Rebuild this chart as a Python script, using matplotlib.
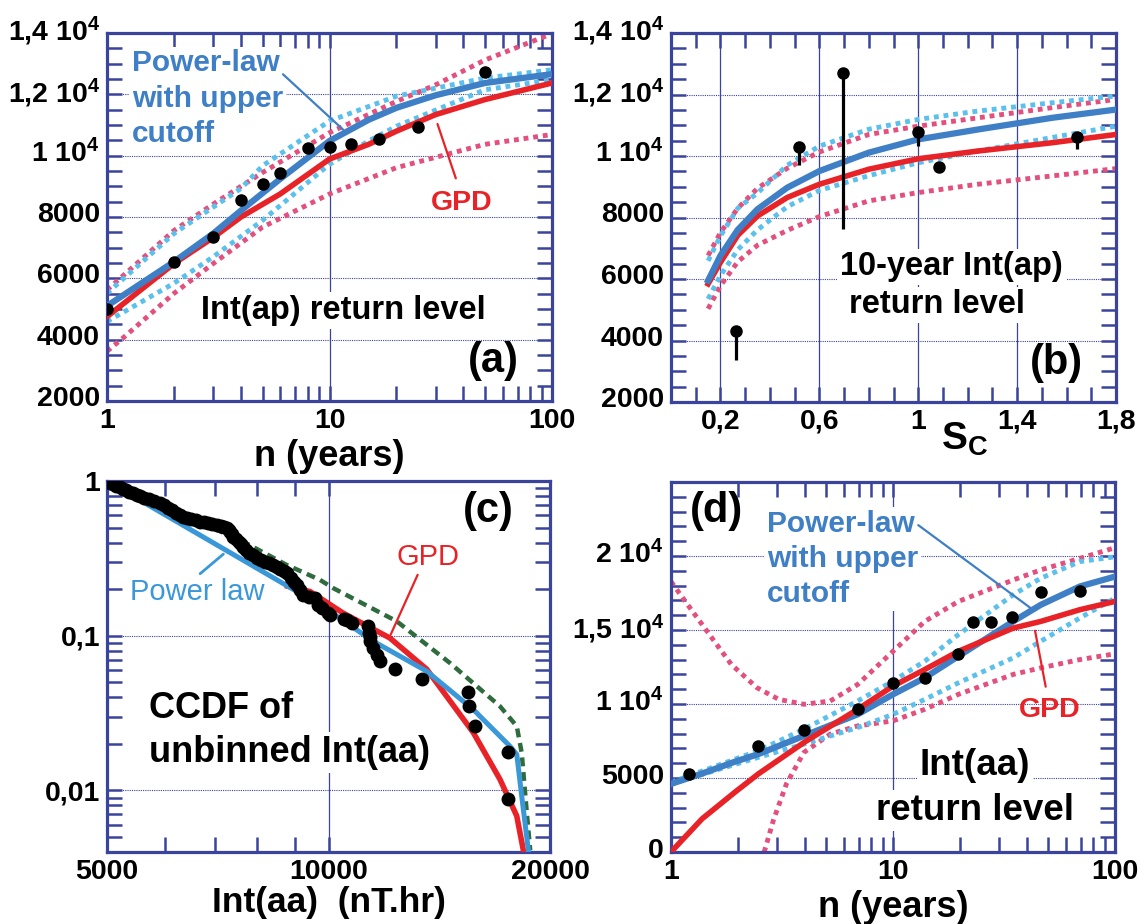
import matplotlib
matplotlib.use("Agg")
import matplotlib.pyplot as plt
import matplotlib.transforms as mtransforms
from matplotlib.ticker import LogLocator, NullFormatter

plt.rcParams["font.family"] = ["Liberation Sans", "DejaVu Sans"]
plt.rcParams["font.weight"] = "bold"
plt.rcParams["mathtext.fontset"] = "custom"
plt.rcParams["mathtext.rm"] = "Liberation Sans:bold"
plt.rcParams["mathtext.it"] = "Liberation Sans:bold"
plt.rcParams["mathtext.bf"] = "Liberation Sans:bold"
plt.rcParams["mathtext.default"] = "rm"

NAVY = "#3b449c"
BLUE = "#3e7fc6"
LIGHT_BLUE = "#5cc0ec"
PINK = "#e3507e"
RED = "#e82328"
PL_BLUE = "#3a98d8"
GREEN = "#2f6b3c"

# ---- (a) Int(ap) return level vs n ----
a_n_obs = [1, 2, 3, 4, 5, 6, 8, 10, 12.5, 16.7, 25, 50]
a_obs = [4990, 6520, 7360, 8560, 9090, 9430, 10260, 10280, 10370, 10530, 10930, 12730]
a_n_fit = [1, 2, 3, 4, 6, 10, 15, 20, 30, 50, 100]
a_powerlaw = [5100, 6540, 7460, 8210, 9240, 10480, 11170, 11560, 11970, 12370, 12660]
a_gpd = [4750, 6480, 7330, 8000, 8750, 9890, 10370, 10800, 11340, 11830, 12370]
a_n_pl_hi = [1, 2, 3, 4, 5, 10, 20, 50, 100]
a_pl_hi = [5510, 7460, 8320, 8930, 9670, 11130, 11940, 12530, 12800]
a_n_pl_lo = [1, 2, 3, 5, 10, 15, 20, 50, 100]
a_pl_lo = [4590, 5840, 6700, 7890, 9720, 10480, 10960, 12150, 12470]
a_n_gpd_hi = [1, 2, 3, 5, 10, 20, 30, 50, 100]
a_gpd_hi = [5620, 7560, 8420, 9450, 10750, 11770, 12310, 13120, 13980]
a_n_gpd_lo = [1, 1.2, 2, 3, 5, 10, 20, 50, 100]
a_gpd_lo = [3620, 4100, 5510, 6480, 7670, 8750, 9610, 10370, 10690]

# ---- (b) 10-year Int(ap) return level vs Sc ----
b_sc_obs = [0.264, 0.519, 0.694, 1.0, 1.086, 1.644]
b_obs = [4320, 10290, 12700, 10780, 9640, 10620]
b_obs_low = [3350, 9710, 7620, 10320, 9640, 10220]
b_sc = [0.15, 0.2, 0.27, 0.35, 0.47, 0.6, 0.8, 1.0, 1.24, 1.54, 1.8]
b_powerlaw = [5950, 6760, 7600, 8270, 8970, 9510, 10110, 10540, 10860, 11240, 11510]
b_gpd = [5840, 6540, 7420, 8050, 8650, 9080, 9570, 9910, 10160, 10430, 10700]
b_pl_hi = [6590, 7400, 8300, 8800, 9700, 10320, 10870, 11190, 11460, 11730, 11950]
b_pl_lo = [5350, 6110, 6950, 7600, 8350, 8880, 9360, 9780, 10160, 10600, 10970]
b_gpd_hi = [6760, 7510, 8300, 8950, 9600, 10130, 10700, 10970, 11240, 11570, 11840]
b_gpd_lo = [5030, 5780, 6560, 7100, 7580, 8030, 8540, 8810, 9080, 9350, 9590]

# ---- (c) CCDF of unbinned Int(aa) ----
c_dot_x = [5000, 5048, 5100, 5150, 5200, 5250, 5300, 5360, 5428, 5490, 5550, 5620, 5700,
           5800, 5902, 5980, 6050, 6120, 6200, 6280, 6348, 6420, 6500, 6600, 6689, 6770,
           6850, 6950, 7047, 7150, 7210, 7273, 7320, 7350, 7390, 7424, 7490, 7550, 7600,
           7660, 7730, 7800, 7900, 7987, 8100, 8200, 8300, 8414, 8500, 8600, 8700, 8775,
           8900, 8980, 9054, 9150, 9245, 9420, 9585, 9686, 9800, 9993, 10046,
           10496, 10585, 10752, 11326, 11365, 11385, 11385, 11505, 11627, 11749,
           12312, 13387, 15490, 15540, 15820, 17550, 17550]
c_dot_y = [1.0, 0.966, 0.95, 0.93, 0.91, 0.89, 0.87, 0.85, 0.833, 0.815, 0.80, 0.78, 0.76,
           0.74, 0.718, 0.695, 0.67, 0.645, 0.625, 0.605, 0.589, 0.578, 0.57, 0.556, 0.546, 0.54,
           0.535, 0.528, 0.520, 0.51, 0.503, 0.495, 0.483, 0.47, 0.455, 0.437, 0.42, 0.405, 0.39,
           0.377, 0.36, 0.345, 0.33, 0.317, 0.307, 0.30, 0.294, 0.287, 0.278, 0.27, 0.262, 0.254,
           0.235, 0.224, 0.213, 0.198, 0.184, 0.178, 0.175, 0.158, 0.150, 0.140, 0.1366,
           0.1286, 0.127, 0.121, 0.115, 0.104, 0.0919, 0.0975, 0.0833, 0.0754, 0.0683,
           0.061, 0.0526, 0.0431, 0.035, 0.0262, 0.0177, 0.00875]
c_pl_x = [5000, 6030, 7424, 9146, 10050, 11508, 13596, 15736, 17646, 18025, 18306, 18690]
c_pl_y = [1.0, 0.595, 0.335, 0.188, 0.143, 0.092, 0.059, 0.0333, 0.0193, 0.0171, 0.0092, 0.0041]
c_gpd_x = [8800, 9440, 10470, 12120, 13600, 15736, 17100, 18025, 18400]
c_gpd_y = [0.209, 0.193, 0.140, 0.0966, 0.0607, 0.0236, 0.0118, 0.00683, 0.0041]
c_exp_x = [7000, 7580, 8770, 9730, 10150, 12380, 14620, 17100, 18025, 18306, 18600, 18800]
c_exp_y = [0.49, 0.416, 0.287, 0.23, 0.203, 0.124, 0.0667, 0.035, 0.026, 0.0175, 0.00718, 0.0041]

# ---- (d) Int(aa) return level vs n ----
d_n_obs = [1.21, 2.47, 3.97, 6.93, 10, 13.9, 19.7, 22.9, 27.5, 34.5, 46.3, 69.4]
d_obs = [5270, 7130, 8230, 9690, 11430, 11770, 13390, 15520, 15540, 15870, 17560, 17650]
d_n_fit = [1, 1.38, 1.94, 2.47, 3.97, 6.93, 10, 13.9, 19.7, 34.8, 46.3, 69.4, 100]
d_powerlaw = [4600, 5300, 6100, 6610, 7850, 9300, 10650, 11770, 13230, 15580, 16700, 17940, 18610]
d_gpd = [0, 2240, 4040, 5270, 7400, 9640, 11210, 12330, 13560, 15130, 15580, 16370, 16930]
d_n_pl = [1, 2.47, 3.97, 6.93, 10, 13.9, 19.7, 34.8, 46.3, 69.4, 100]
d_pl_hi = [4710, 6840, 8300, 10200, 11550, 12890, 14690, 17380, 18500, 19620, 19950]
d_pl_lo = [4600, 6390, 7290, 8410, 9300, 10310, 11430, 13120, 14240, 15810, 17150]
d_n_gpd_hi = [1, 1.19, 1.49, 1.87, 2.44, 3.06, 3.97, 5.21, 6.93, 10, 13.9, 19.7, 34.8, 46.3, 69.4, 100]
d_gpd_hi = [18270, 16700, 14690, 12670, 11100, 10310, 9980, 10200, 11320, 13560, 15580,
            16930, 18380, 19060, 19840, 20560]
d_n_gpd_lo = [2.63, 2.89, 3.31, 3.97, 5.21, 6.93, 10, 13.9, 19.7, 34.8, 46.3, 69.4, 100]
d_gpd_lo = [0, 2130, 4600, 6730, 7960, 8520, 8860, 9640, 10650, 12000, 12440, 13000, 13390]

# axes boxes in pixels: left, top, right, bottom
FIG_W, FIG_H = 1148, 924
BOXES = {
    "a": (107, 33, 552, 401),
    "b": (671, 33, 1116, 402),
    "c": (107, 481, 550, 852),
    "d": (671, 482, 1115, 852),
}


def make_axes(fig, key):
    l, t, r, b = BOXES[key]
    return fig.add_axes([l / FIG_W, 1 - b / FIG_H, (r - l) / FIG_W, (b - t) / FIG_H])


def frame(ax):
    for s in ax.spines.values():
        s.set_color(NAVY)
        s.set_linewidth(2.3)
    ax.tick_params(which="both", direction="in", top=True, right=True,
                   length=11, width=1.8, color=NAVY, labelsize=20.5)
    ax.tick_params(axis="y", which="both", pad=5)
    ax.tick_params(axis="x", which="both", pad=5)


def lift_ylabels(ax, px):
    off = mtransforms.ScaledTranslation(0, px / 100, ax.figure.dpi_scale_trans)
    for lab in ax.get_yticklabels():
        lab.set_transform(lab.get_transform() + off)


def hgrid(ax, ys):
    for y in ys:
        ax.axhline(y, color=NAVY, lw=0.8, ls=(0, (1, 1)), zorder=0.5)


def vgrid(ax, xs):
    for x in xs:
        ax.axvline(x, color=NAVY, lw=0.9, zorder=0.5)


def dotted(ax, x, y, color):
    ax.plot(x, y, color=color, lw=3.5, ls=(0, (1, 1)), zorder=2.5)


def label_box(ax, x, y, s, **kw):
    kw.setdefault("fontsize", 23.5)
    ax.text(x, y, s, transform=ax.transAxes, zorder=2,
            bbox=dict(facecolor="white", edgecolor="none", pad=2), **kw)


def log_x(ax, lo, hi):
    ax.set_xscale("log")
    ax.set_xlim(lo, hi)
    ax.xaxis.set_minor_locator(LogLocator(subs=range(2, 10)))
    ax.xaxis.set_minor_formatter(NullFormatter())


fig = plt.figure(figsize=(FIG_W / 100, FIG_H / 100), dpi=100)

# ---------------- (a) ----------------
ax = make_axes(fig, "a")
log_x(ax, 1, 100)
ax.set_ylim(2000, 14000)
ax.set_xticks([1, 10, 100], ["1", "10", "100"])
ax.set_yticks(range(2000, 14001, 2000),
              ["2000", "4000", "6000", "8000", "1 10$^4$", "1,2 10$^4$", "1,4 10$^4$"])
ax.set_yticks(range(2000, 14001, 500), minor=True)
frame(ax)
hgrid(ax, [4000, 6000, 8000, 10000, 12000])
vgrid(ax, [10])
dotted(ax, a_n_gpd_hi, a_gpd_hi, PINK)
dotted(ax, a_n_gpd_lo, a_gpd_lo, PINK)
dotted(ax, a_n_pl_hi, a_pl_hi, LIGHT_BLUE)
dotted(ax, a_n_pl_lo, a_pl_lo, LIGHT_BLUE)
ax.plot(a_n_fit, a_gpd, color=RED, lw=4, zorder=3)
ax.plot(a_n_fit, a_powerlaw, color=BLUE, lw=4.5, zorder=3.2)
ax.plot(a_n_obs, a_obs, "o", color="black", ms=8, zorder=4)
label_box(ax, 0.056, 0.822, "Power-law\nwith upper\ncutoff", color=BLUE, fontsize=21.5,
          va="center", ha="left", linespacing=1.32)
ax.annotate("", xy=(11.75, 10790), xytext=(6.05, 12715),
            arrowprops=dict(arrowstyle="-", color=BLUE, lw=1.6), zorder=3)
ax.text(0.798, 0.538, "GPD", transform=ax.transAxes, color=RED, fontsize=20.5,
        ha="center", va="center")
ax.annotate("", xy=(37.3, 9175), xytext=(30.3, 11118),
            arrowprops=dict(arrowstyle="-", color=RED, lw=1.6), zorder=3)
label_box(ax, 0.532, 0.247, "Int(ap) return level", ha="center", va="center")
ax.text(0.868, 0.108, "(a)", transform=ax.transAxes, fontsize=30, ha="center", va="center")
ax.text(0.5, -0.15, "n (years)", transform=ax.transAxes, fontsize=26, ha="center", va="center")
lift_ylabels(ax, 5)

# ---------------- (b) ----------------
ax = make_axes(fig, "b")
ax.set_xlim(0, 1.8)
ax.set_ylim(2000, 14000)
ax.set_xticks([0.2, 0.6, 1.0, 1.4, 1.8], ["0,2", "0,6", "1", "1,4", "1,8"])
ax.set_xticks([i / 10 for i in range(0, 19)], minor=True)
ax.set_yticks(range(2000, 14001, 2000),
              ["2000", "4000", "6000", "8000", "1 10$^4$", "1,2 10$^4$", "1,4 10$^4$"])
ax.set_yticks(range(2000, 14001, 500), minor=True)
frame(ax)
hgrid(ax, [4000, 6000, 8000, 10000, 12000])
vgrid(ax, [0.2, 0.6, 1.0, 1.4])
dotted(ax, b_sc, b_gpd_hi, PINK)
dotted(ax, b_sc, b_gpd_lo, PINK)
dotted(ax, b_sc, b_pl_hi, LIGHT_BLUE)
dotted(ax, b_sc, b_pl_lo, LIGHT_BLUE)
ax.plot(b_sc, b_gpd, color=RED, lw=4, zorder=3)
ax.plot(b_sc, b_powerlaw, color=BLUE, lw=4.5, zorder=3.2)
ax.vlines(b_sc_obs, b_obs_low, b_obs, color="black", lw=2.3, zorder=4)
ax.plot(b_sc_obs, b_obs, "o", color="black", ms=8, zorder=4)
label_box(ax, 0.631, 0.366, "10-year Int(ap)", ha="center", va="center")
label_box(ax, 0.598, 0.263, "return level", ha="center", va="center")
ax.text(0.866, 0.107, "(b)", transform=ax.transAxes, fontsize=30, ha="center", va="center")
ax.text(0.66, -0.1, "S$_C$", transform=ax.transAxes, fontsize=28, ha="center", va="center")
lift_ylabels(ax, 5)

# ---------------- (c) ----------------
ax = make_axes(fig, "c")
log_x(ax, 5000, 20000)
ax.set_yscale("log")
ax.set_ylim(0.004, 1)
ax.set_xticks([5000, 10000, 20000], ["5000", "10000", "20000"])
ax.set_xticks([6000, 7000, 8000, 9000], minor=True)
ax.set_yticks([0.01, 0.1, 1], ["0,01", "0,1", "1"])
ax.yaxis.set_minor_locator(LogLocator(subs=range(2, 10)))
ax.yaxis.set_minor_formatter(NullFormatter())
frame(ax)
hgrid(ax, [0.01, 0.1])
vgrid(ax, [10000])
ax.plot(c_exp_x, c_exp_y, color=GREEN, lw=3.2, ls=(0, (2, 1.3)), zorder=3)
ax.plot(c_gpd_x, c_gpd_y, color=RED, lw=4, zorder=3.1)
ax.plot(c_pl_x, c_pl_y, color=PL_BLUE, lw=3.6, zorder=3.2)
ax.plot(c_dot_x, c_dot_y, "o", color="black", ms=9, zorder=4)
ax.text(0.203, 0.70, "Power law", transform=ax.transAxes, color=PL_BLUE, fontsize=21,
        fontweight="normal", ha="center", va="center", zorder=2,
        bbox=dict(facecolor="white", edgecolor="none", pad=1))
ax.annotate("", xy=(7245, 0.346), xytext=(6647, 0.245),
            arrowprops=dict(arrowstyle="-", color=PL_BLUE, lw=2), zorder=3)
ax.text(0.724, 0.795, "GPD", transform=ax.transAxes, color=RED, fontsize=21,
        fontweight="normal", ha="center", va="center")
ax.annotate("", xy=(12106, 0.098), xytext=(13265, 0.257),
            arrowprops=dict(arrowstyle="-", color=RED, lw=1.6), zorder=3)
label_box(ax, 0.095, 0.388, "CCDF of", ha="left", va="center", fontsize=26)
label_box(ax, 0.095, 0.268, "unbinned Int(aa)", ha="left", va="center", fontsize=26)
ax.text(0.86, 0.92, "(c)", transform=ax.transAxes, fontsize=30, ha="center", va="center")
ax.text(0.5, -0.135, "Int(aa)  (nT.hr)", transform=ax.transAxes, fontsize=25.5,
        ha="center", va="center")

# ---------------- (d) ----------------
ax = make_axes(fig, "d")
log_x(ax, 1, 100)
ax.set_ylim(0, 25000)
ax.set_xticks([1, 10, 100], ["1", "10", "100"])
ax.set_yticks(range(0, 20001, 5000),
              ["0", "5000", "1 10$^4$", "1,5 10$^4$", "2 10$^4$"])
ax.set_yticks(range(0, 25001, 1000), minor=True)
frame(ax)
hgrid(ax, [5000, 10000, 15000, 20000])
vgrid(ax, [10])
dotted(ax, d_n_gpd_hi, d_gpd_hi, PINK)
dotted(ax, d_n_gpd_lo, d_gpd_lo, PINK)
dotted(ax, d_n_pl, d_pl_hi, LIGHT_BLUE)
dotted(ax, d_n_pl, d_pl_lo, LIGHT_BLUE)
ax.plot(d_n_fit, d_powerlaw, color=BLUE, lw=4.5, zorder=3)
ax.plot(d_n_fit, d_gpd, color=RED, lw=4, zorder=3.2)
ax.plot(d_n_obs, d_obs, "o", color="black", ms=8, zorder=4)
label_box(ax, 0.216, 0.792, "Power-law\nwith upper\ncutoff", color=BLUE, fontsize=21.5,
          va="center", ha="left", linespacing=1.32)
ax.annotate("", xy=(43.7, 16255), xytext=(12.7, 22196),
            arrowprops=dict(arrowstyle="-", color=BLUE, lw=1.6), zorder=3)
ax.text(0.853, 0.385, "GPD", transform=ax.transAxes, color=RED, fontsize=20.5,
        ha="center", va="center")
ax.annotate("", xy=(43.4, 15134), xytext=(49, 10986),
            arrowprops=dict(arrowstyle="-", color=RED, lw=1.6), zorder=3)
label_box(ax, 0.684, 0.233, "Int(aa)", ha="center", va="center", fontsize=26.5)
label_box(ax, 0.684, 0.112, "return level", ha="center", va="center", fontsize=26.5)
ax.text(0.103, 0.922, "(d)", transform=ax.transAxes, fontsize=30, ha="center", va="center")
ax.text(0.5, -0.149, "n (years)", transform=ax.transAxes, fontsize=26, ha="center", va="center")
lift_ylabels(ax, 4)

fig.savefig("out.png", dpi=100)
